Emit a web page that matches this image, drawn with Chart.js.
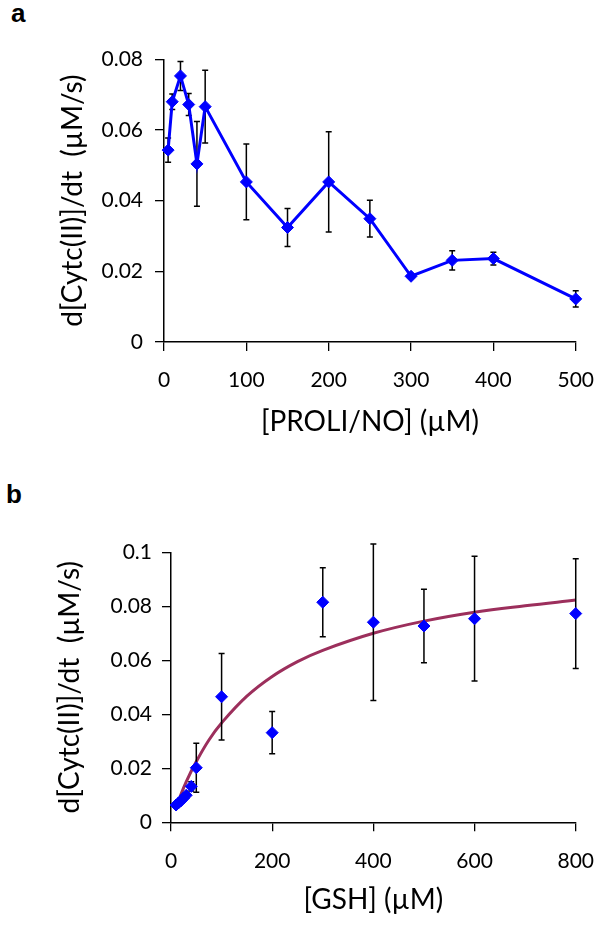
<!DOCTYPE html>
<html>
<head>
<meta charset="utf-8">
<script src="https://cdn.jsdelivr.net/npm/chart.js@4.4.1/dist/chart.umd.min.js"></script>
<style>
  body { margin: 0; background: #fff; }
  #wrap { position: relative; width: 611px; height: 927px; }
  canvas { position: absolute; left: 0; }
  .lbl { position: absolute; font: bold 26px "Liberation Sans", Arial, sans-serif; line-height: 26px; color: #000; }
</style>
</head>
<body>
<div id="wrap">
  <div class="lbl" style="left:11px;top:0px">a</div>
  <canvas id="chartA" style="top:0" width="611" height="450"></canvas>
  <div class="lbl" style="left:6px;top:481px">b</div>
  <canvas id="chartB" style="top:450px" width="611" height="477"></canvas>
</div>
<script>
// panel a: PROLI/NO
const proliX = [5, 10, 20, 30, 40, 50, 100, 150, 200, 250, 300, 350, 400, 500];
const rateA = [0.0543, 0.0680, 0.0753, 0.0672, 0.0504, 0.0666, 0.0453, 0.0324, 0.0453, 0.0349, 0.0186, 0.0231, 0.0236, 0.0122];
const errA = [0.0034, 0.0022, 0.0041, 0.0031, 0.0120, 0.0103, 0.0107, 0.0054, 0.0142, 0.0052, 0.0005, 0.0027, 0.0018, 0.0023];
const xTicksA = [0, 100, 200, 300, 400, 500];
const yTicksA = [0, 0.02, 0.04, 0.06, 0.08];
const yLabelsA = ['0', '0.02', '0.04', '0.06', '0.08'];

// panel b: GSH
const gshX = [10, 15, 20, 25, 30, 40, 50, 100, 200, 300, 400, 500, 600, 800];
const rateB = [0.0064, 0.0072, 0.0080, 0.0090, 0.0100, 0.0133, 0.0202, 0.0465, 0.0332, 0.0815, 0.0741, 0.0727, 0.0754, 0.0773];
const errB = [0, 0, 0, 0, 0, 0.0017, 0.0091, 0.0160, 0.0078, 0.0128, 0.0290, 0.0136, 0.0231, 0.0203];
// fitted curve
const fitX = [18, 30, 50, 75, 100, 150, 200, 250, 300, 400, 500, 600, 700, 800];
const fitY = [0.0095, 0.0150, 0.0225, 0.0305, 0.0368, 0.0467, 0.0540, 0.0595, 0.0637, 0.0700, 0.0745, 0.0778, 0.0802, 0.0823];
const xTicksB = [0, 200, 400, 600, 800];
const yTicksB = [0, 0.02, 0.04, 0.06, 0.08, 0.1];
const yLabelsB = ['0', '0.02', '0.04', '0.06', '0.08', '0.1'];

const yTitle = 'd[Cytc(II)]/dt  (µM/s)';
const tickFont = { family: 'Lato', size: 21 };
const titleFont = { family: 'Lato', size: 28 };

// error bars, drawn just before the marker dataset
const errorBars = {
  id: 'errorBars',
  beforeDatasetDraw(chart, args, opts) {
    if (args.index !== opts.idx) return;
    const { ctx } = chart;
    const xs = chart.scales.x;
    const ys = chart.scales.y;
    ctx.save();
    ctx.strokeStyle = '#000';
    ctx.lineWidth = 1.5;
    opts.xs.forEach((xv, i) => {
      if (!opts.err[i]) return;
      const px = xs.getPixelForValue(xv);
      const top = ys.getPixelForValue(opts.ys[i] + opts.err[i]);
      const bot = ys.getPixelForValue(opts.ys[i] - opts.err[i]);
      ctx.beginPath();
      ctx.moveTo(px, top); ctx.lineTo(px, bot);
      ctx.moveTo(px - 3, top); ctx.lineTo(px + 3, top);
      ctx.moveTo(px - 3, bot); ctx.lineTo(px + 3, bot);
      ctx.stroke();
    });
    ctx.restore();
  },
};

const axisX = (max, ticks, title, h, tpad) => ({
  type: 'linear', min: 0, max,
  afterBuildTicks: (s) => { s.ticks = ticks.map((v) => ({ value: v })); },
  afterFit: (s) => { s.height = h; },
  grid: { drawOnChartArea: false, drawTicks: true, tickLength: 9, color: '#000', lineWidth: 1.3 },
  border: { display: true, color: '#000', width: 1.5 },
  ticks: { color: '#000', font: tickFont, padding: 17, maxRotation: 0 },
  title: { display: true, text: title, color: '#000', font: titleFont, padding: { top: 0, bottom: tpad } },
});

const axisY = (max, ticks, labels, w, pad, tpad) => ({
  type: 'linear', min: 0, max,
  afterBuildTicks: (s) => { s.ticks = ticks.map((v) => ({ value: v })); },
  afterFit: (s) => { s.width = w; },
  grid: { drawOnChartArea: false, drawTicks: true, tickLength: 9, color: '#000', lineWidth: 1.3 },
  border: { display: true, color: '#000', width: 1.5 },
  ticks: { color: '#000', font: tickFont, padding: pad, callback: (v, i) => labels[i] },
  title: { display: true, text: yTitle, color: '#000', font: titleFont, padding: { top: tpad, bottom: 0 } },
});

// eslint-disable-next-line no-new, no-undef
new Chart(document.getElementById('chartA'), {
  type: 'scatter',
  data: {
    datasets: [{
      data: proliX.map((x, i) => ({ x, y: rateA[i] })),
      showLine: true,
      borderColor: '#0000ff',
      borderWidth: 3,
      backgroundColor: '#0000ff',
      pointStyle: 'rectRot',
      pointRadius: 6,
      pointBorderWidth: 1,
      clip: false,
    }],
  },
  options: {
    responsive: false,
    animation: false,
    layout: { padding: { top: 59.3, right: 26, bottom: 0, left: 0 } },
    plugins: {
      legend: { display: false },
      tooltip: { enabled: false },
      errorBars: { idx: 0, xs: proliX, ys: rateA, err: errA },
    },
    scales: {
      x: axisX(500, xTicksA, '[PROLI/NO] (µM)', 108, 11),
      y: axisY(0.08, yTicksA, yLabelsA, 164, 12, 56),
    },
  },
  plugins: [errorBars],
});

// eslint-disable-next-line no-new, no-undef
new Chart(document.getElementById('chartB'), {
  type: 'scatter',
  data: {
    datasets: [{
      data: fitX.map((x, i) => ({ x, y: fitY[i] })),
      showLine: true,
      borderColor: '#9c2f5c',
      borderWidth: 3,
      pointRadius: 0,
      tension: 0.4,
      order: 2,
    }, {
      data: gshX.map((x, i) => ({ x, y: rateB[i] })),
      backgroundColor: '#0000ff',
      borderColor: '#0000ff',
      pointStyle: 'rectRot',
      pointRadius: 6,
      pointBorderWidth: 1,
      clip: false,
      order: 1,
    }],
  },
  options: {
    responsive: false,
    animation: false,
    layout: { padding: { top: 102.3, right: 29, bottom: 0, left: 0 } },
    plugins: {
      legend: { display: false },
      tooltip: { enabled: false },
      errorBars: { idx: 1, xs: gshX, ys: rateB, err: errB },
    },
    scales: {
      x: axisX(800, xTicksB, '[GSH] (µM)', 104.7, 10),
      y: axisY(0.1, yTicksB, yLabelsB, 171, 10, 53),
    },
  },
  plugins: [errorBars],
});
</script>
</body>
</html>
